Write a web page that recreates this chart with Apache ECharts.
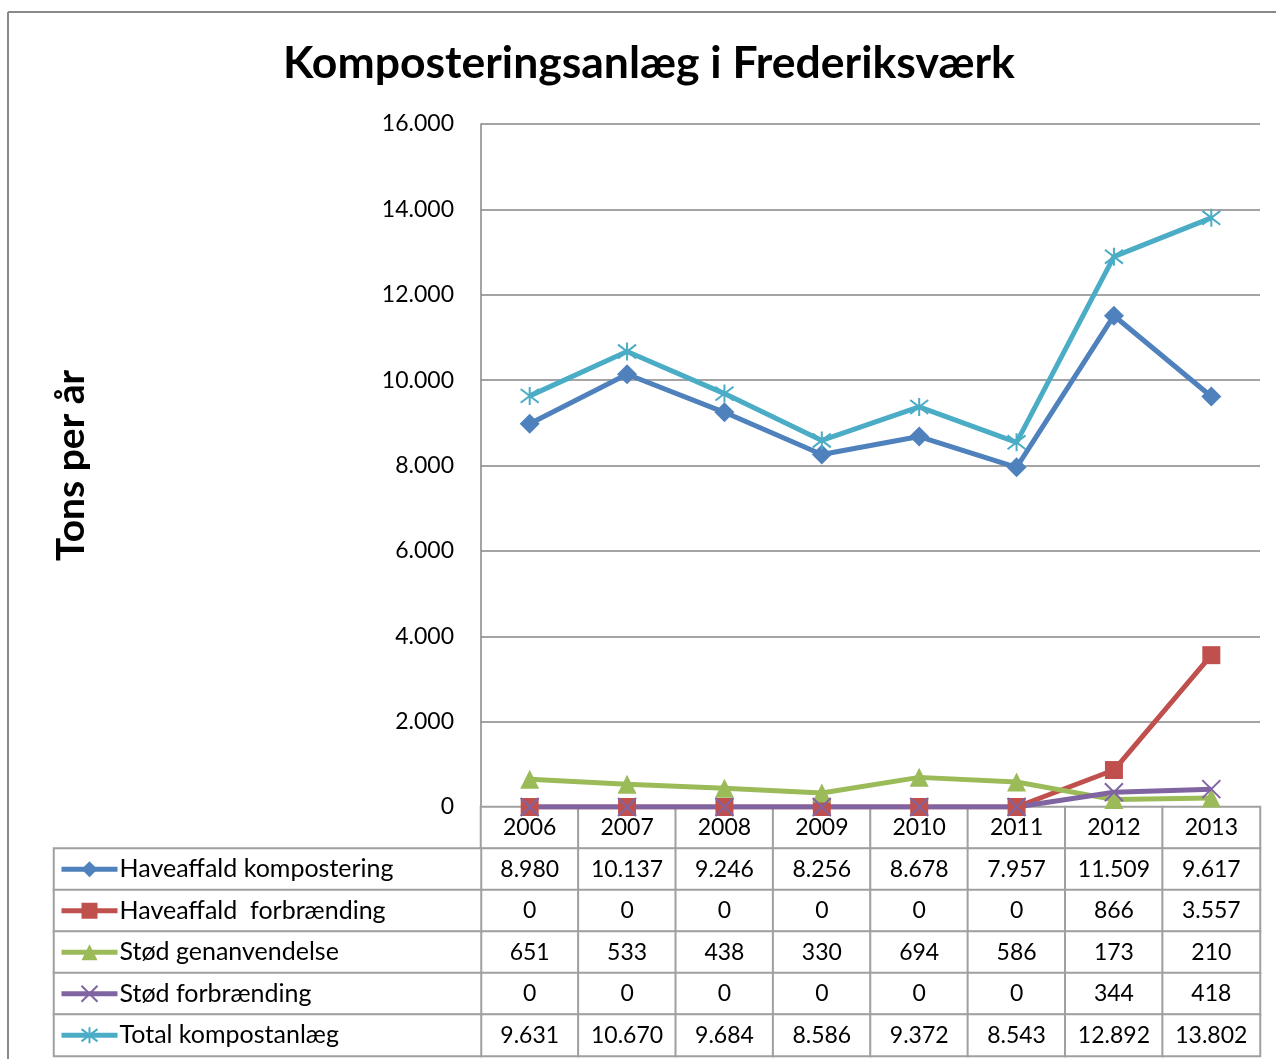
<!DOCTYPE html>
<html>
<head>
<meta charset="utf-8">
<script src="https://cdn.jsdelivr.net/npm/echarts@6/dist/echarts.min.js"></script>
<style>
html,body{margin:0;padding:0;background:#fff;}
#chart{width:1276px;height:1059px;}
</style>
</head>
<body>
<div id="chart"></div>
<script>
// ---- data ----
var years = ['2006', '2007', '2008', '2009', '2010', '2011', '2012', '2013'];
var seriesNames = ['Haveaffald kompostering', 'Haveaffald  forbrænding', 'Stød genanvendelse', 'Stød forbrænding', 'Total kompostanlæg'];
var haveaffaldKompostering = [8980, 10137, 9246, 8256, 8678, 7957, 11509, 9617];
var haveaffaldForbraending = [0, 0, 0, 0, 0, 0, 866, 3557];
var stodGenanvendelse = [651, 533, 438, 330, 694, 586, 173, 210];
var stodForbraending = [0, 0, 0, 0, 0, 0, 344, 418];
var totalKompostanlaeg = [9631, 10670, 9684, 8586, 9372, 8543, 12892, 13802];
var yTicks = [0, 2000, 4000, 6000, 8000, 10000, 12000, 14000, 16000];
var titleText = 'Komposteringsanlæg i Frederiksværk';
var yAxisTitle = 'Tons per år';

// ---- styling ----
var FONT = 'Lato';
var colors = ['#4F81BD', '#C0504D', '#9BBB59', '#8064A2', '#4BACC6'];
var symbols = ['diamond', 'rect', 'triangle', 'path://M0,0L10,10M10,0L0,10', 'path://M0,0L10,10M10,0L0,10M5,-1.5L5,11.5'];
var symbolSizes = [20, 18, 19, 18, 18];
var seriesValues = [haveaffaldKompostering, haveaffaldForbraending, stodGenanvendelse, stodForbraending, totalKompostanlaeg];

function fmt(v) {
  return String(v).replace(/\B(?=(\d{3})+(?!\d))/g, '.');
}

// table cells: row 0 = years, rows 1..5 = series
var tableCells = [];
years.forEach(function (y, xi) { tableCells.push([xi, 0, Number(y)]); });
seriesValues.forEach(function (vals, si) {
  vals.forEach(function (v, xi) { tableCells.push([xi, si + 1, v]); });
});
var legendCells = seriesNames.map(function (n, i) { return [0, i, 0]; });

var gridLeft = 481, gridTop = 124, gridW = 779, gridH = 683;
var rowH = 41.5;
var tableTop = gridTop + gridH;

var series = [
  {
    type: 'heatmap', xAxisIndex: 1, yAxisIndex: 1, data: tableCells, z: 1,
    itemStyle: { color: '#fff', borderColor: '#a0a0a0', borderWidth: 2 },
    label: {
      show: true, color: '#000', fontFamily: FONT, fontSize: 23,
      formatter: function (p) { return p.value[1] === 0 ? String(p.value[2]) : fmt(p.value[2]); }
    },
    emphasis: { disabled: true }, silent: true
  },
  {
    type: 'heatmap', xAxisIndex: 2, yAxisIndex: 2, data: legendCells, z: 1,
    itemStyle: { color: '#fff', borderColor: '#a0a0a0', borderWidth: 2 },
    label: { show: false },
    emphasis: { disabled: true }, silent: true
  }
];
seriesNames.forEach(function (name, i) {
  var isPath = symbols[i].indexOf('path://') === 0;
  series.push({
    name: name, type: 'line', xAxisIndex: 0, yAxisIndex: 0, z: 5,
    data: seriesValues[i],
    symbol: symbols[i], symbolSize: symbolSizes[i], showSymbol: true,
    lineStyle: { color: colors[i], width: 5 },
    itemStyle: isPath ? { color: colors[i], borderColor: colors[i], borderWidth: 2 } : { color: colors[i], borderWidth: 0 },
    emphasis: { disabled: true },
    animation: false
  });
});

var legends = seriesNames.map(function (name, i) {
  var cy = tableTop + rowH * (i + 1.5);
  return {
    data: [name], left: 59, top: cy - 13, padding: 0,
    itemWidth: 56, itemHeight: 20, itemGap: 0, selectedMode: false,
    lineStyle: { width: 5 },
    textStyle: { fontFamily: FONT, fontSize: 25, color: '#000', lineHeight: 26, padding: [0, 0, 0, -3] }
  };
});

var option = {
  backgroundColor: '#fff',
  animation: false,
  title: {
    text: titleText, left: 283, top: 41, padding: 0,
    textStyle: { fontFamily: FONT, fontWeight: 'bold', fontSize: 44.5, color: '#000' }
  },
  legend: legends,
  grid: [
    { left: gridLeft, top: gridTop, width: gridW, height: gridH },
    { left: gridLeft, top: tableTop, width: gridW, height: rowH * 6 },
    { left: 54, top: tableTop + rowH, width: gridLeft - 54, height: rowH * 5 }
  ],
  xAxis: [
    { type: 'category', gridIndex: 0, data: years, boundaryGap: true,
      axisLine: { show: true, lineStyle: { color: '#868686', width: 1.5 } },
      axisTick: { show: false }, axisLabel: { show: false }, splitLine: { show: false } },
    { type: 'category', gridIndex: 1, data: years, show: false },
    { type: 'category', gridIndex: 2, data: ['legend'], show: false }
  ],
  yAxis: [
    { type: 'value', gridIndex: 0, min: yTicks[0], max: yTicks[yTicks.length - 1], interval: 2000,
      name: yAxisTitle, nameLocation: 'middle', nameRotate: 90, nameGap: 390,
      nameTextStyle: { fontFamily: FONT, fontWeight: 'bold', fontSize: 39, color: '#000' },
      axisLine: { show: true, lineStyle: { color: '#868686', width: 1.5 } },
      axisTick: { show: false },
      axisLabel: { fontFamily: FONT, fontSize: 23, color: '#000', margin: 27, formatter: fmt },
      splitLine: { show: true, lineStyle: { color: '#868686', width: 1.5 } } },
    { type: 'category', gridIndex: 1, inverse: true, data: ['år'].concat(seriesNames), show: false },
    { type: 'category', gridIndex: 2, inverse: true, data: seriesNames, show: false }
  ],
  graphic: [
    { type: 'line', shape: { x1: 8, y1: 12, x2: 1276, y2: 12 }, style: { stroke: '#8a8a8a', lineWidth: 2 }, silent: true },
    { type: 'line', shape: { x1: 8, y1: 12, x2: 8, y2: 1059 }, style: { stroke: '#8a8a8a', lineWidth: 2 }, silent: true }
  ],
  series: series
};

var chart = echarts.init(document.getElementById('chart'), null, { renderer: 'canvas' });
chart.setOption(option);
</script>
</body>
</html>
